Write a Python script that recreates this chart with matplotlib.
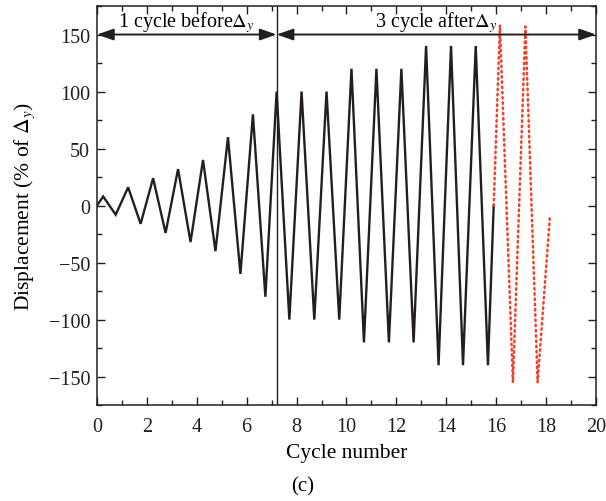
import matplotlib
matplotlib.use("Agg")
import matplotlib.pyplot as plt
from matplotlib.ticker import MultipleLocator

plt.rcParams['font.family'] = ['Liberation Serif', 'DejaVu Serif']
plt.rcParams['mathtext.fontset'] = 'stix'

# loading protocol (cycle number, % of yield displacement)
cycle_before = [0, 0.25, 0.75, 1.25, 1.75, 2.25, 2.75, 3.25, 3.75, 4.25, 4.75,
                5.25, 5.75, 6.25, 6.75, 7.2]
disp_before = [0, 8, -8, 16, -16, 24, -24, 32, -32, 40, -40, 60, -60, 80, -80, 100]

cycle_after = [7.2, 7.71, 8.2, 8.71, 9.2, 9.71, 10.2, 10.7, 11.2, 11.7, 12.2,
               12.69, 13.19, 13.69, 14.19, 14.67, 15.18, 15.67, 15.9]
disp_after = [100, -100, 100, -100, 100, -100, 120, -120, 120, -120, 120,
              -120, 140, -140, 140, -140, 140, -140, 0]

cycle_red = [15.9, 16.15, 16.67, 17.17, 17.66, 18.15]
disp_red = [0, 158, -155, 157, -155, -10]

yield_cycle = 7.2
arrow_level = 150

fig = plt.figure(figsize=(6.06, 5.02), dpi=100)
ax = fig.add_axes([0.160, 0.191, 0.8235, 0.795])

ax.plot(cycle_before + cycle_after[1:], disp_before + disp_after[1:],
        color='#231f20', lw=1.7, solid_joinstyle='miter')
ax.plot(cycle_red, disp_red, color='#f2402a', lw=1.8, linestyle=(0, (0.6, 1.5)),
        dash_capstyle='round')

ax.axvline(yield_cycle, color='#231f20', lw=1.0)

arrow_kw = dict(arrowstyle='<|-|>,head_length=1.0,head_width=0.35',
                color='#231f20', lw=1.4, shrinkA=0, shrinkB=0)
ax.annotate('', xy=(0, arrow_level), xytext=(yield_cycle, arrow_level), arrowprops=arrow_kw)
ax.annotate('', xy=(yield_cycle, arrow_level), xytext=(20, arrow_level), arrowprops=arrow_kw)

ax.text(yield_cycle / 2, 157, r'1 cycle before$\Delta_y$', ha='center', va='baseline', fontsize=14.5)
ax.text((yield_cycle + 20) / 2, 157, r'3 cycle after$\Delta_y$', ha='center', va='baseline', fontsize=14.5)

ax.set_xlim(0, 20)
ax.set_ylim(-175, 175)
ax.xaxis.set_major_locator(MultipleLocator(2))
ax.xaxis.set_minor_locator(MultipleLocator(1))
ax.yaxis.set_major_locator(MultipleLocator(50))
ax.yaxis.set_minor_locator(MultipleLocator(25))
ax.tick_params(which='both', direction='in', top=True, right=True, labelsize=14.5, colors='#231f20')
ax.tick_params(which='major', length=6, width=1)
ax.tick_params(which='minor', length=3.5, width=1)
ax.tick_params(axis='x', which='major', pad=8.5)
ax.tick_params(axis='y', which='major', pad=5)
for s in ax.spines.values():
    s.set_linewidth(1.1)
    s.set_color('#231f20')

ax.set_xlabel('Cycle number', fontsize=15.5, labelpad=5)
ax.set_ylabel(r'Displacement (% of $\Delta_y$)', fontsize=15.5, labelpad=8)
fig.text(0.5, 0.01, '(c)', ha='center', va='bottom', fontsize=15)

fig.savefig('out.png', dpi=100)
